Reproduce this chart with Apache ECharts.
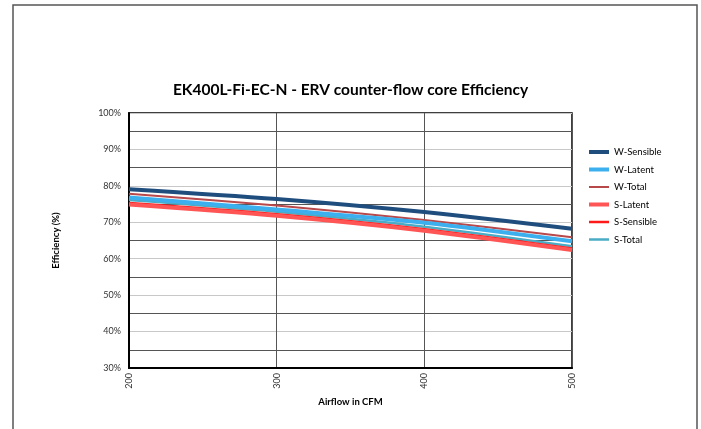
<!DOCTYPE html>
<html>
<head>
<meta charset="utf-8">
<script src="https://cdn.jsdelivr.net/npm/echarts@6/dist/echarts.min.js"></script>
<style>
  html, body { margin: 0; padding: 0; background: #fff; }
  #chart1 { width: 701px; height: 429px; }
</style>
</head>
<body>
<div id="chart1"></div>
<script>
var airflow = [200, 300, 400, 500];
var wSensible = [79.1, 76.4, 72.8, 68.2];
var wLatent = [76.8, 73.5, 69.9, 64.8];
var wTotal = [77.8, 74.6, 70.6, 65.9];
var sLatent = [74.9, 71.8, 67.7, 62.4];
var sSensible = [75.3, 72.2, 68.1, 62.8];
var sTotal = [76.1, 72.9, 68.8, 63.4];
var legendNames = ['W-Sensible', 'W-Latent', 'W-Total', 'S-Latent', 'S-Sensible', 'S-Total'];

var font = 'Lato';
var colors = {
    'W-Sensible': '#1f4e7e',
    'W-Latent': '#3cb0ee',
    'W-Total': '#b8484a',
    'S-Latent': '#ff5555',
    'S-Sensible': '#ff1a1a',
    'S-Total': '#4bacc6'
};
var widths = {
    'W-Sensible': 4,
    'W-Latent': 4,
    'W-Total': 2,
    'S-Latent': 4,
    'S-Sensible': 2.5,
    'S-Total': 2.5
};

function pairs(vals) {
    return airflow.map(function (x, i) { return [x, vals[i]]; });
}

function line(name, vals) {
    return {
        name: name,
        type: 'line',
        data: pairs(vals),
        smooth: 0.3,
        showSymbol: false,
        symbol: 'circle',
        lineStyle: { color: colors[name], width: widths[name] },
        itemStyle: { color: colors[name] },
        animation: false
    };
}

var myChart1 = echarts.init(document.getElementById('chart1'));
myChart1.setOption({
    backgroundColor: '#fff',
    title: {
        text: 'EK400L-Fi-EC-N - ERV counter-flow core Efficiency',
        left: 'center',
        top: 77,
        textStyle: { fontFamily: font, fontSize: 15.5, fontWeight: 'bold', color: '#000' }
    },
    graphic: [{
        type: 'rect',
        shape: { x: 13, y: 5, width: 684, height: 440 },
        style: { fill: null, stroke: '#555', lineWidth: 1.5 },
        silent: true
    }],
    legend: {
        orient: 'vertical',
        left: 587,
        top: 147,
        padding: 0,
        itemWidth: 20,
        itemHeight: 12,
        itemGap: 7.5,
        itemStyle: { opacity: 0 },
        textStyle: { fontFamily: font, fontSize: 9.5, color: '#000' },
        data: legendNames.map(function (n) {
            return { name: n, lineStyle: { width: widths[n], color: colors[n] } };
        })
    },
    grid: {
        left: 129, right: 129, top: 113, bottom: 61,
        show: true,
        borderColor: '#000',
        borderWidth: 1.5
    },
    xAxis: {
        type: 'value',
        min: 200, max: 500, interval: 100,
        name: 'Airflow in CFM',
        nameLocation: 'middle',
        nameGap: 24,
        nameTextStyle: { fontFamily: font, fontSize: 9.5, fontWeight: 'bold', color: '#000' },
        axisLine: { lineStyle: { color: '#000', width: 2 } },
        axisTick: { show: false },
        axisLabel: { rotate: 90, fontFamily: font, fontSize: 9, color: '#333', margin: 5 },
        splitLine: { show: true, lineStyle: { color: '#555', width: 1 } }
    },
    yAxis: {
        type: 'value',
        min: 30, max: 100, interval: 10,
        name: 'Efficiency (%)',
        nameLocation: 'middle',
        nameGap: 68,
        nameTextStyle: { fontFamily: font, fontSize: 9.5, fontWeight: 'bold', color: '#000' },
        axisLine: { lineStyle: { color: '#000', width: 2 } },
        axisTick: { show: false },
        axisLabel: { formatter: '{value}%', fontFamily: font, fontSize: 9, color: '#333', margin: 8 },
        splitLine: { show: true, lineStyle: { color: '#c8c8c8', width: 1 } },
        minorTick: { show: false, splitNumber: 2 },
        minorSplitLine: { show: true, lineStyle: { color: '#555', width: 1 } }
    },
    series: [
        line('S-Total', sTotal),
        line('S-Sensible', sSensible),
        line('W-Total', wTotal),
        line('W-Latent', wLatent),
        line('S-Latent', sLatent),
        line('W-Sensible', wSensible)
    ]
});

window.onresize = function () {
    myChart1.resize();
};
</script>
</body>
</html>
